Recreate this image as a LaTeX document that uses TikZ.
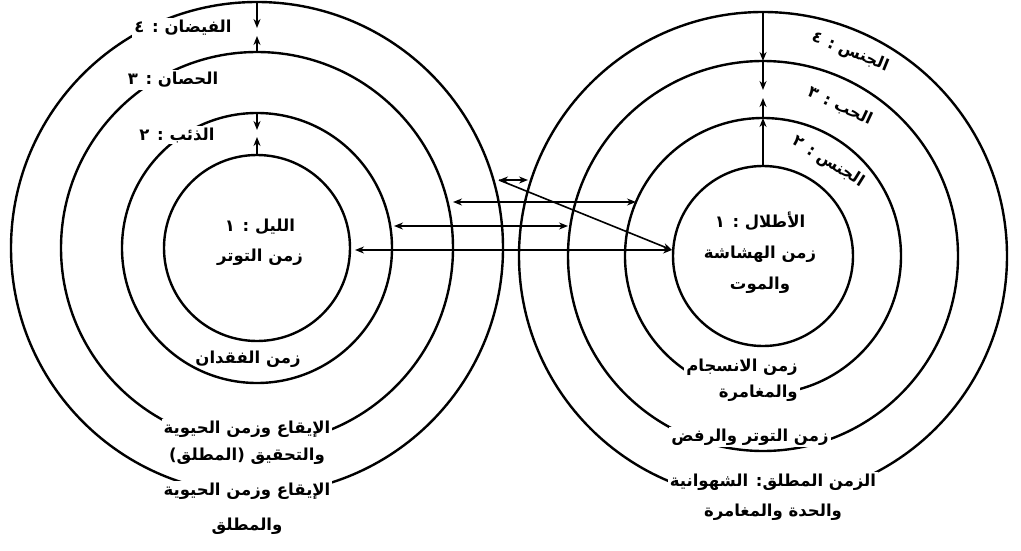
\documentclass[tikz,border=0pt]{standalone}
\usepackage{fontspec}
\newfontfamily\arabicfont[Script=Arabic]{DejaVu Sans}
\TeXXeTstate=1
\usetikzlibrary{arrows.meta}
\newcommand{\AR}[1]{\beginR #1\endR}
\begin{document}
\begin{tikzpicture}[x=1pt,y=-1pt,
  ring/.style={circle,draw,line width=2.4pt,inner sep=0pt,outer sep=0pt},
  lbl/.style={font=\arabicfont\bfseries\fontsize{16.5}{30}\selectfont, fill=white, inner sep=2pt, align=center},
  rlbl/.style={font=\arabicfont\bfseries\fontsize{16}{20}\selectfont, inner sep=0pt},
  con/.style={line width=1.6pt},
  arr/.style={con,-{Stealth[length=9pt,width=7pt]}},
  darr/.style={con,{Stealth[length=9pt,width=7pt]}-{Stealth[length=9pt,width=7pt]}},
]
\path[use as bounding box] (0,0) rectangle (1021,551);
% left rings
\node[ring,minimum size=186pt] (L1) at (257,248) {};
\node[ring,minimum size=270pt] (L2) at (257,248) {};
\node[ring,minimum size=392pt] (L3) at (257,248) {};
\node[ring,minimum size=492pt] (L4) at (257,248) {};
% right rings
\node[ring,minimum size=180pt] (R1) at (763,256) {};
\node[ring,minimum size=276pt] (R2) at (763,256) {};
\node[ring,minimum size=390pt] (R3) at (763,256) {};
\node[ring,minimum size=488pt] (R4) at (763,256) {};
% vertical arrows left
\coordinate (t1) at (257,28);
\coordinate (t2) at (257,36);
\coordinate (t3) at (257,130);
\coordinate (t4) at (257,137);
\draw[arr] (L4.north) -- (t1);
\draw[arr] (L3.north) -- (t2);
\draw[arr] (L2.north) -- (t3);
\draw[arr] (L1.north) -- (t4);
% vertical arrows right
\coordinate (u1) at (763,90);
\coordinate (u2) at (763,98);
\draw[arr] (R4.north) -- (R3.north);
\draw[arr] (R3.north) -- (u1);
\draw[arr] (R1.north) -- (R2.north);
\draw[arr] (R2.north) -- (u2);
% horizontal connectors
\coordinate (a1) at (499,180);
\coordinate (a2) at (528,180);
\coordinate (b1) at (453,202);
\coordinate (b2) at (636,202);
\coordinate (c1) at (394,226);
\coordinate (c2) at (568,226);
\coordinate (d1) at (355,250);
\coordinate (d2) at (672,250);
\draw[darr] (a1) -- (a2);
\draw[arr] (a1) -- (d2);
\draw[darr] (b1) -- (b2);
\draw[darr] (c1) -- (c2);
\draw[darr] (d1) -- (d2);
% left labels
\node[lbl] (lf) at (183,28) {\AR{الفيضان : ٤}};
\node[lbl] (lh) at (173,80) {\AR{الحصان : ٣}};
\node[lbl] (ld) at (177,135) {\AR{الذئب : ٢}};
\node[lbl,fill=none] (ll) at (260,242) {\AR{الليل : ١}\\\AR{زمن التوتر}};
\node[lbl,fill=none] (lq) at (248,359) {\AR{زمن الفقدان}};
\node[lbl,font=\arabicfont\bfseries\fontsize{16.5}{27}\selectfont] (lA) at (247,443) {\AR{الإيقاع وزمن الحيوية}\\\AR{والتحقيق (المطلق)}};
\node[lbl,font=\arabicfont\bfseries\fontsize{16.5}{35}\selectfont] (lB) at (247,509) {\AR{الإيقاع وزمن الحيوية}\\\AR{والمطلق}};
% right labels
\node[rlbl,rotate=-22] (rj4) at (850,52) {\AR{الجنس : ٤}};
\node[rlbl,rotate=-25] (rh3) at (840,106) {\AR{الحب : ٣}};
\node[rlbl,rotate=-32] (rj2) at (828,162) {\AR{الجنس : ٢}};
\node[lbl,fill=none,font=\arabicfont\bfseries\fontsize{16.5}{31}\selectfont] (ra) at (760,253) {\AR{الأطلال : ١}\\\AR{زمن الهشاشة}\\\AR{والموت}};
\node[lbl,align=right,font=\arabicfont\bfseries\fontsize{16.5}{26}\selectfont] (rn) at (742,380) {\AR{زمن الانسجام}\\\AR{والمغامرة}};
\node[lbl] (rt) at (750,437) {\AR{زمن التوتر والرفض}};
\node[lbl] (rz) at (773,497) {\AR{الزمن المطلق: الشهوانية}\\\AR{والحدة والمغامرة}};
\end{tikzpicture}
\end{document}
